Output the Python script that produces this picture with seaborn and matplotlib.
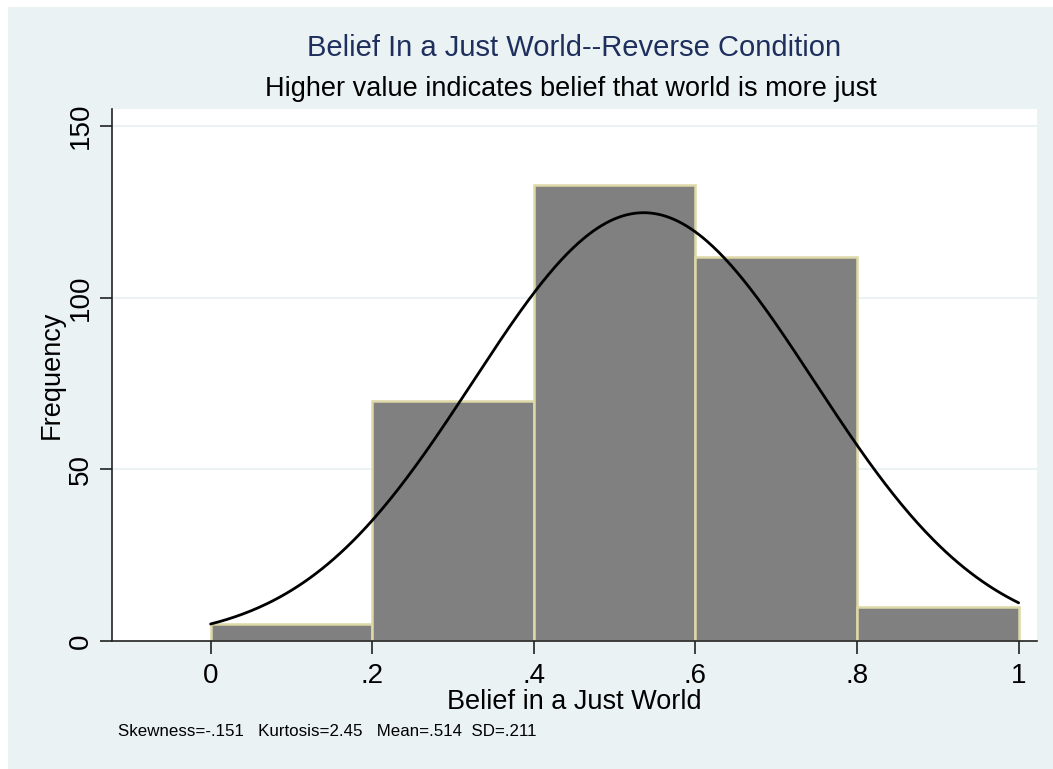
import numpy as np
import pandas as pd
import matplotlib
matplotlib.use("Agg")
import matplotlib.pyplot as plt
import seaborn as sns

# Histogram bins and frequencies
bin_edges = [0.0, 0.2, 0.4, 0.6, 0.8, 1.0]
counts = [5, 70, 133, 112, 10]

# Normal overlay parameters
curve_mean = 0.536
curve_sd = 0.211

x_ticks = [0, 0.2, 0.4, 0.6, 0.8, 1.0]
x_tick_labels = ["0", ".2", ".4", ".6", ".8", "1"]
y_ticks = [0, 50, 100, 150]
y_tick_labels = ["0", "50", "100", "150"]

title = "Belief In a Just World--Reverse Condition"
subtitle = "Higher value indicates belief that world is more just"
x_label = "Belief in a Just World"
y_label = "Frequency"
note = "Skewness=-.151   Kurtosis=2.45   Mean=.514  SD=.211"

BG = "#EAF2F3"
BAR = "#808080"
EDGE = "#DDD8A6"
NAVY = "#1E2F5E"

sns.set_theme(style="white")
plt.rcParams["font.family"] = ["Liberation Sans", "DejaVu Sans"]
plt.rcParams["text.color"] = "black"
plt.rcParams["axes.labelcolor"] = "black"
plt.rcParams["xtick.color"] = "black"
plt.rcParams["ytick.color"] = "black"

fig = plt.figure(figsize=(10.53, 7.69), dpi=100)
fig.patch.set_facecolor("white")
# light background panel
fig.patches.append(plt.Rectangle((8 / 1053, 0), 1 - 8 / 1053, 1 - 7 / 769,
                                 transform=fig.transFigure, facecolor=BG,
                                 edgecolor="none", zorder=-10))

left, right, top, bottom = 112, 1037, 109, 641
ax = fig.add_axes([left / 1053, 1 - bottom / 769,
                   (right - left) / 1053, (bottom - top) / 769])
ax.set_facecolor("white")

df = pd.DataFrame({
    "value": [(a + b) / 2 for a, b in zip(bin_edges[:-1], bin_edges[1:])],
    "count": counts,
})

for yv in y_ticks[1:]:
    ax.axhline(yv, color=BG, lw=1.5, zorder=0)

sns.histplot(data=df, x="value", weights="count", bins=bin_edges,
             color=BAR, edgecolor=EDGE, linewidth=1.8, alpha=1, ax=ax,
             zorder=2)

n_total = sum(counts)
width = bin_edges[1] - bin_edges[0]
xs = np.linspace(bin_edges[0], bin_edges[-1], 400)
dens = n_total * width / (curve_sd * np.sqrt(2 * np.pi)) * \
    np.exp(-0.5 * ((xs - curve_mean) / curve_sd) ** 2)
sns.lineplot(x=xs, y=dens, color="black", lw=2, ax=ax, zorder=3)

ax.set_xlim(-0.122, 1.0227)
ax.set_ylim(0, 155)

ax.set_xticks(x_ticks)
ax.set_xticklabels(x_tick_labels, fontsize=20, color="black")
ax.set_yticks(y_ticks)
ax.set_yticklabels(y_tick_labels, fontsize=20, rotation=90, va="center",
                   color="black")
ax.tick_params(axis="both", direction="out", length=9, width=1.2,
               color="#222222", pad=4, bottom=True, left=True)
ax.tick_params(axis="x", pad=7)

for s in ["top", "right"]:
    ax.spines[s].set_visible(False)
for s in ["left", "bottom"]:
    ax.spines[s].set_color("#222222")
    ax.spines[s].set_linewidth(1.2)

ax.set_xlabel(x_label, fontsize=19.5, labelpad=0, color="black")
ax.set_ylabel(y_label, fontsize=19.5, labelpad=2, color="black")

fig.text(574 / 1053, 1 - 48 / 769, title, fontsize=21, color=NAVY,
         ha="center", va="center")
fig.text(571 / 1053, 1 - 89 / 769, subtitle, fontsize=19.5, color="black",
         ha="center", va="center")
fig.text(118 / 1053, 1 - 732 / 769, note, fontsize=12.2, color="black",
         ha="left", va="center")

fig.savefig("out.png", dpi=100, facecolor=fig.get_facecolor())
